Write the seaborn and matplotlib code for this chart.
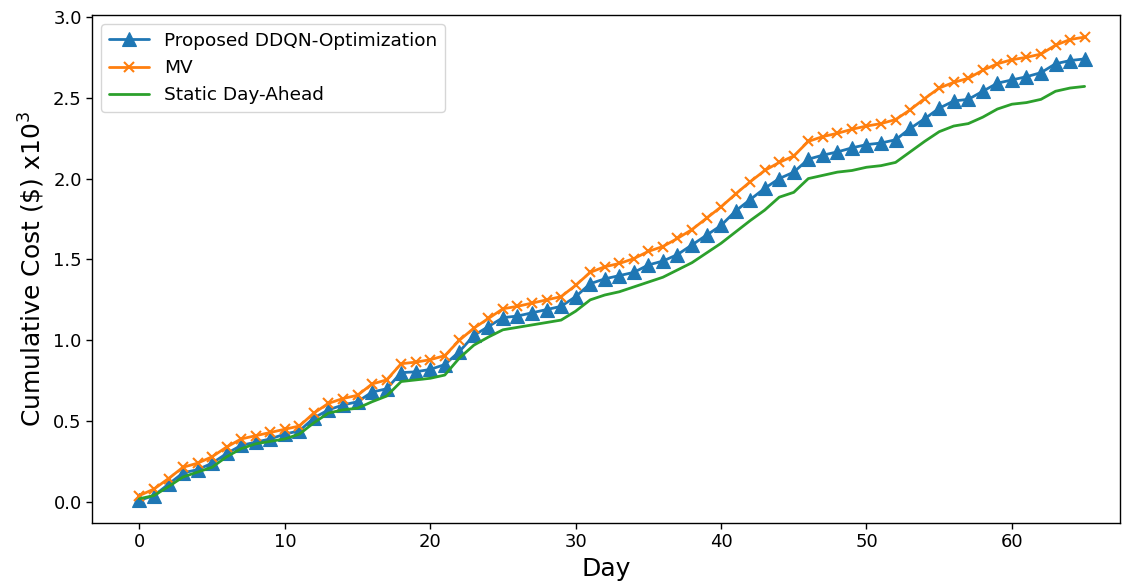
import numpy as np
import pandas as pd
import matplotlib
matplotlib.use("Agg")
import matplotlib.pyplot as plt
import seaborn as sns

days = list(range(66))

ddqn = [0.01, 0.04, 0.11, 0.18, 0.20, 0.24, 0.30, 0.35, 0.37, 0.39, 0.42, 0.44,
        0.52, 0.57, 0.60, 0.62, 0.68, 0.70, 0.80, 0.805, 0.82, 0.85, 0.93, 1.03,
        1.085, 1.14, 1.15, 1.17, 1.19, 1.21, 1.27, 1.35, 1.38, 1.40, 1.42, 1.466,
        1.49, 1.53, 1.59, 1.65, 1.71, 1.80, 1.87, 1.94, 2.00, 2.04, 2.12, 2.145,
        2.165, 2.19, 2.21, 2.22, 2.24, 2.31, 2.37, 2.435, 2.48, 2.49, 2.54, 2.59,
        2.61, 2.63, 2.655, 2.71, 2.73, 2.74]

mv = [0.04, 0.08, 0.145, 0.215, 0.24, 0.28, 0.34, 0.39, 0.41, 0.43, 0.45, 0.47,
      0.55, 0.61, 0.64, 0.66, 0.73, 0.755, 0.855, 0.865, 0.88, 0.905, 1.00, 1.075,
      1.135, 1.195, 1.21, 1.23, 1.25, 1.27, 1.34, 1.42, 1.455, 1.475, 1.505, 1.55,
      1.58, 1.63, 1.685, 1.755, 1.825, 1.905, 1.98, 2.05, 2.10, 2.14, 2.23, 2.26,
      2.28, 2.305, 2.325, 2.34, 2.365, 2.425, 2.495, 2.56, 2.595, 2.62, 2.67, 2.71,
      2.735, 2.75, 2.77, 2.825, 2.86, 2.875]

static = [0.02, 0.04, 0.095, 0.155, 0.185, 0.215, 0.28, 0.33, 0.36, 0.375, 0.39, 0.42,
          0.49, 0.55, 0.57, 0.58, 0.62, 0.655, 0.745, 0.755, 0.765, 0.785, 0.89, 0.97,
          1.02, 1.065, 1.08, 1.095, 1.11, 1.125, 1.18, 1.25, 1.28, 1.30, 1.33, 1.36,
          1.39, 1.435, 1.48, 1.54, 1.60, 1.67, 1.74, 1.805, 1.885, 1.915, 2.00, 2.02,
          2.04, 2.05, 2.07, 2.08, 2.10, 2.165, 2.23, 2.29, 2.325, 2.34, 2.38, 2.43,
          2.46, 2.47, 2.49, 2.54, 2.56, 2.57]

labels = ["Proposed DDQN-Optimization", "MV", "Static Day-Ahead"]
colors = ["#1f77b4", "#ff7f0e", "#2ca02c"]

sns.set_style("ticks")
plt.rcParams["font.family"] = ["DejaVu Sans"]

fig = plt.figure(figsize=(11.24, 5.87), dpi=100)
ax = fig.add_axes([0.082, 0.109, 0.914, 0.865])

sns.lineplot(x=days, y=ddqn, ax=ax, color=colors[0], label=labels[0],
             marker="^", markersize=10, markeredgecolor=colors[0],
             markeredgewidth=0.8, linewidth=2)
sns.lineplot(x=days, y=mv, ax=ax, color=colors[1], label=labels[1],
             marker="x", markersize=7, markeredgecolor=colors[1],
             markeredgewidth=1.5, linewidth=2)
sns.lineplot(x=days, y=static, ax=ax, color=colors[2], label=labels[2],
             linewidth=2)

ax.set_xlim(-3.25, 67.4)
ax.set_ylim(-0.13, 3.01)
ax.set_xticks([0, 10, 20, 30, 40, 50, 60])
ax.set_yticks([0.0, 0.5, 1.0, 1.5, 2.0, 2.5, 3.0])
ax.set_yticklabels(["0.0", "0.5", "1.0", "1.5", "2.0", "2.5", "3.0"])
ax.tick_params(axis="both", labelsize=13, direction="out", length=4,
               width=1, color="black", labelcolor="black")
for s in ax.spines.values():
    s.set_color("black")
    s.set_linewidth(1.0)

ax.set_xlabel("Day", fontsize=18, color="black")
ax.set_ylabel(r"Cumulative Cost (\$) x10$^3$", fontsize=18, color="black")

leg = ax.legend(loc="upper left", fontsize=13.3, frameon=True, handlelength=2.2)
for t in leg.get_texts():
    t.set_color("black")

fig.savefig("out.png", dpi=100)
